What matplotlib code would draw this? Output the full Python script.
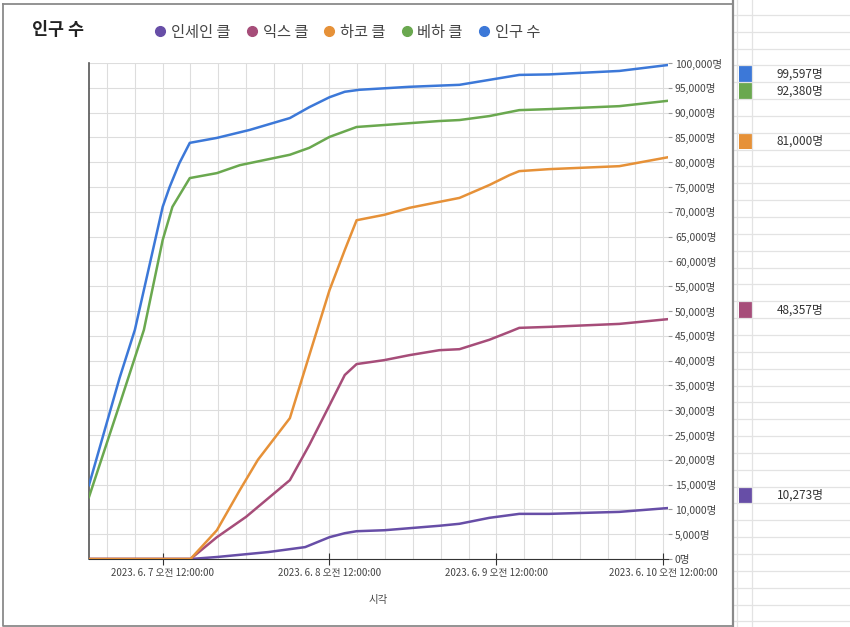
import numpy as np
import matplotlib
matplotlib.use('Agg')
import matplotlib.pyplot as plt
from matplotlib.ticker import MultipleLocator, FuncFormatter, FixedLocator
from matplotlib.lines import Line2D
from matplotlib.patches import Rectangle

plt.rcParams['font.family'] = ['Noto Sans CJK KR', 'DejaVu Sans']
plt.rcParams['axes.unicode_minus'] = False

# 시간: 2023-06-07 00:00 기준 경과 시간(h)
names = ['인세인 클', '익스 클', '하코 클', '베하 클', '인구 수']
colors = ['#674ea7', '#a64d79', '#e69138', '#6aa84f', '#3c78d8']

t_blue = [-10.6, -6.2, -4.0, 0.0, 1.0, 2.4, 3.9, 7.8, 12.5, 18.3, 21.1, 24.0, 26.2, 28.3,
          35.5, 42.7, 47.0, 51.3, 55.6, 65.7, 72.7]
v_blue = [14900, 36500, 46200, 71000, 75000, 79800, 83900, 84900, 86500, 88900, 91100, 93100,
          94200, 94600, 95200, 95600, 96600, 97600, 97700, 98400, 99597]

t_green = [-10.6, -6.0, -2.7, 0.0, 1.4, 3.9, 7.8, 11.1, 18.3, 21.1, 24.0, 27.9, 31.9, 39.8,
           42.7, 47.0, 51.3, 55.6, 65.7, 72.7]
v_green = [12500, 32000, 46200, 64300, 71000, 76800, 77800, 79400, 81500, 82900, 85100, 87100,
           87500, 88300, 88500, 89300, 90500, 90700, 91300, 92380]

t_orange = [-10.6, 4.0, 7.8, 11.1, 13.7, 18.3, 21.1, 24.0, 26.2, 27.9, 31.9, 35.5, 39.8, 42.7,
            47.0, 49.9, 51.3, 55.6, 65.7, 72.7]
v_orange = [0, 0, 5800, 13900, 20000, 28400, 41100, 54200, 62300, 68300, 69400, 70800, 72000,
            72800, 75400, 77400, 78200, 78600, 79200, 81000]

t_red = [-10.6, 4.0, 7.8, 12.0, 18.3, 21.1, 24.0, 26.2, 27.9, 31.9, 35.5, 39.8, 42.7, 47.0,
         49.9, 51.3, 55.6, 65.7, 72.7]
v_red = [0, 0, 4400, 8500, 15900, 23000, 31000, 37100, 39300, 40100, 41100, 42100, 42300,
         44200, 45800, 46600, 46800, 47400, 48357]

t_purple = [-10.6, 4.0, 7.8, 15.2, 20.5, 24.0, 26.2, 27.9, 31.9, 39.8, 42.7, 47.0, 51.3, 55.6,
            65.7, 72.7]
v_purple = [0, 0, 400, 1400, 2400, 4400, 5200, 5600, 5800, 6700, 7100, 8300, 9100, 9100,
            9500, 10273]

series_t = [t_purple, t_red, t_orange, t_green, t_blue]
series_v = [v_purple, v_red, v_orange, v_green, v_blue]
final_vals = [10273, 48357, 81000, 92380, 99597]
final_rows = [28, 17, 7, 4, 3]   # 오른쪽 시트에서의 행 위치

tick_hours = [0, 24, 48, 72]
tick_labels = ['2023. 6. 7 오전 12:00:00', '2023. 6. 8 오전 12:00:00',
               '2023. 6. 9 오전 12:00:00', '2023. 6. 10 오전 12:00:00']

W, H = 850, 627
fig = plt.figure(figsize=(8.5, 6.27), dpi=100)
fig.patch.set_facecolor('white')

# 배경: 차트 테두리 + 시트 격자
ov = fig.add_axes([0, 0, 1, 1])
ov.set_xlim(0, W)
ov.set_ylim(H, 0)
ov.axis('off')
ov.patch.set_alpha(0)
for k in range(40):
    yy = 14.8 + 16.85 * k
    if yy > H:
        break
    ov.plot([734, W], [yy, yy], color='#e3e3e3', lw=0.9)
ov.plot([737, 737], [0, H], color='#e3e3e3', lw=0.9)
ov.plot([752, 752], [0, H], color='#e3e3e3', lw=0.9)
ov.plot([3, 733, 733, 3, 3], [4, 4, 626, 626, 4], color='#8a8a8a', lw=1.3)
ov.plot([733, 733], [0, H], color='#8a8a8a', lw=1.6)
for v, r, c in zip(final_vals, final_rows, colors):
    top = 14.8 + 16.85 * r
    ov.add_patch(Rectangle((739, top + 0.5), 13, 16, color=c, lw=0))
    ov.text(800, top + 8.5, f'{v:,}명', ha='center', va='center', fontsize=8.5, color='#333333')

# 메인 차트
ax = fig.add_axes([89 / W, 1 - 559 / H, 579 / W, 496 / H])
ax.set_facecolor('white')
for t, v, c in zip(series_t, series_v, colors):
    ax.plot(t, v, color=c, lw=1.8, solid_joinstyle='round', zorder=3)

ax.set_xlim(-10.6, 72.7)
ax.set_ylim(0, 100000)
ax.xaxis.set_major_locator(FixedLocator(tick_hours))
ax.xaxis.set_minor_locator(MultipleLocator(4))
ax.set_xticklabels(tick_labels)
ax.yaxis.set_major_locator(MultipleLocator(5000))
ax.yaxis.set_major_formatter(FuncFormatter(lambda x, p: f'{int(x):,}명'))
ax.yaxis.tick_right()
ax.tick_params(axis='y', length=3, color='#999999', labelsize=7.5, labelcolor='#444444', pad=2)
ax.tick_params(axis='x', which='major', direction='inout', length=9, color='#333333',
               labelsize=7, labelcolor='#444444', pad=2)
ax.tick_params(axis='x', which='minor', length=0)
ax.grid(True, which='both', axis='x', color='#dddddd', lw=0.8)
ax.grid(True, which='major', axis='y', color='#dddddd', lw=0.8)
ax.set_axisbelow(True)
for s in ['top', 'right']:
    ax.spines[s].set_visible(False)
ax.spines['left'].set_color('#555555')
ax.spines['bottom'].set_color('#333333')
ax.spines['left'].set_linewidth(1.2)
ax.set_xlabel('시각', fontsize=7.5, color='#444444', labelpad=12)

fig.text(32 / W, 1 - 30 / H, '인구 수', fontsize=12.5, fontweight='bold', color='#222222', va='center')
handles = [Line2D([], [], ls='none', marker='o', ms=7, color=c) for c in colors]
fig.legend(handles, names, loc='center left', bbox_to_anchor=(139 / W, 1 - 32 / H), ncol=5,
           frameon=False, handletextpad=0.2, columnspacing=0.9, handlelength=1.0,
           fontsize=11, labelcolor='#444444')

fig.savefig('out.png', dpi=100)
